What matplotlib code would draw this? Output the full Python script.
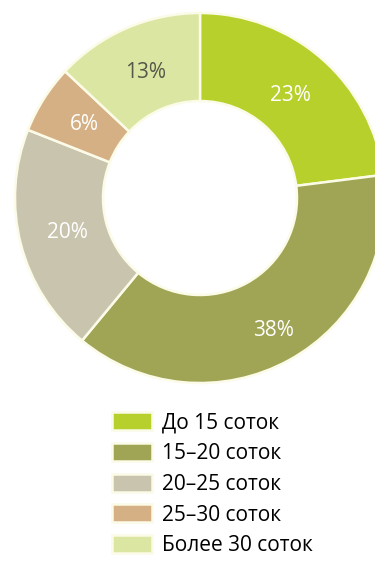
import numpy as np
import matplotlib.pyplot as plt

# shares of plots by size
labels = ["До 15 соток", "15–20 соток", "20–25 соток", "25–30 соток", "Более 30 соток"]
shares = [23, 38, 20, 6, 13]
colors = ["#b8d02c", "#a0a555", "#c9c4ae", "#d5b084", "#dbe6a2"]
text_colors = ["white", "white", "white", "white", "#55574a"]

plt.rcParams['font.family'] = ['Open Sans', 'DejaVu Sans']

fig = plt.figure(figsize=(3.75, 5.63), dpi=100)
ax = fig.add_axes([0, 0, 1, 1])

cx, cy, R = 200, 365, 185
wedges, texts = ax.pie(shares, colors=colors, startangle=90, counterclock=False,
                       center=(cx, cy), radius=R, frame=True,
                       labels=[f"{s}%" for s in shares], labeldistance=0.74,
                       wedgeprops=dict(width=88, edgecolor="#fbfbe8", linewidth=1.8),
                       textprops=dict(fontsize=15, ha='center', va='center'))
for t, c in zip(texts, text_colors):
    t.set_color(c)

# the big slice's label sits further out
w = wedges[1]
mid = np.deg2rad((w.theta1 + w.theta2) / 2)
texts[1].set_position((cx + 0.82 * R * np.cos(mid), cy + 0.82 * R * np.sin(mid)))

ax.set_xlim(0, 375)
ax.set_ylim(0, 563)
ax.set_aspect('equal')
ax.axis('off')

ax.legend(wedges, labels, loc='upper left', bbox_to_anchor=(112, 563 - 412),
          bbox_transform=ax.transData, frameon=False, fontsize=15,
          handlelength=1.92, handleheight=0.96, handletextpad=0.5,
          labelspacing=0.46, borderpad=0, borderaxespad=0)

fig.savefig("out.png", dpi=100)
